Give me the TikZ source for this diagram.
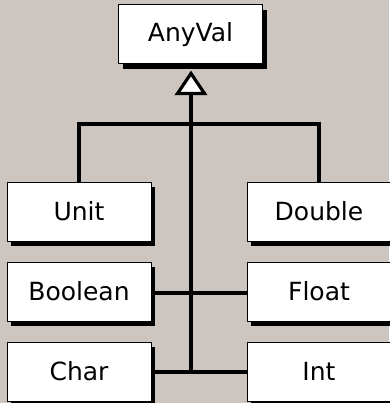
\documentclass[tikz,border=0pt]{standalone}
\usepackage{fontspec}
\setmainfont{DejaVu Sans}
\usetikzlibrary{shadows}
\definecolor{bg}{RGB}{205,198,192}
\begin{document}
\begin{tikzpicture}[x=1pt,y=-1pt,
  box/.style={draw=black, line width=1pt, fill=white, minimum width=144pt, minimum height=59pt,
    inner sep=0pt, font=\fontsize{25}{30}\selectfont,
    drop shadow={shadow xshift=4pt, shadow yshift=-5pt, fill=black, opacity=1}},
  conn/.style={draw=black, line width=3.3pt},
  tri/.style={draw=black, line width=3.2pt, fill=white, line join=miter}]
\fill[bg] (0,0) rectangle (389,403);
\useasboundingbox (0,0) rectangle (389,403);
\node[box] (anyval) at (190.5,34.5) {AnyVal};
\node[box] (unit) at (79,211.5) {Unit};
\node[box] (double) at (319,211.5) {Double};
\node[box] (boolean) at (79,291.5) {Boolean};
\node[box] (float) at (319,291.5) {Float};
\node[box] (char) at (79,371.5) {Char};
\node[box] (int) at (319,371.5) {Int};
\coordinate (apex) at (191,73.5);
\coordinate (tbl) at (177.5,93.5);
\coordinate (tbr) at (204.5,93.5);
\coordinate (tb) at (191,93.5);
\coordinate (bar) at (191,124);
\coordinate (hub) at (191,372);
\draw[conn] (tb) -- (hub);
\draw[conn] (unit.north) |- (bar) -| (double.north);
\draw[conn] ([yshift=-1.5pt]boolean.east) -- ([yshift=-1.5pt]float.west);
\draw[conn] ([yshift=-0.5pt]char.east) -- ([yshift=-0.5pt]int.west);
\draw[tri] (apex) -- (tbr) -- (tbl) -- cycle;
\end{tikzpicture}
\end{document}
